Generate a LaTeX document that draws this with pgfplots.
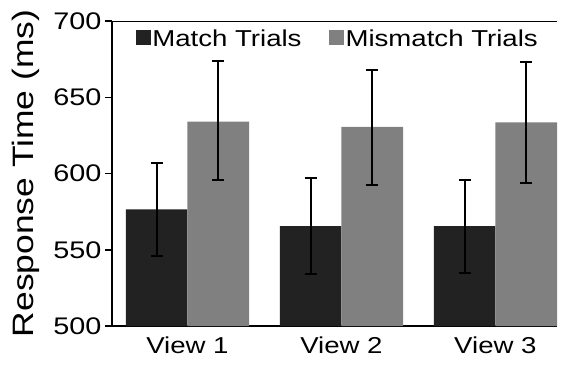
\documentclass[border=0pt]{standalone}
\usepackage{fontspec}
\setmainfont{Liberation Sans}[FakeStretch=1.2]
\usepackage{pgfplots}
\usepackage{pgfplotstable}
\pgfplotsset{compat=1.18}
\definecolor{matchc}{HTML}{222222}
\definecolor{mismc}{HTML}{808080}
\pgfplotstableread{
x y ep em
0 576.5 30.5 30.5
1 565.5 31.5 31.5
2 565.5 30.5 30.5
}\matchdata
\pgfplotstableread{
x y ep em
0 634 40 38
1 630.5 37.5 38
2 633.5 39.5 39.5
}\mismdata
\begin{document}
\begin{tikzpicture}
\useasboundingbox (-112pt,-39pt) rectangle (458pt,326pt);
\begin{axis}[
  at={(0,0)}, anchor=south west,
  scale only axis, width=445pt, height=305pt,
  ybar, bar width=0.4,
  ymin=500, ymax=700, ytick={500,550,...,700},
  xmin=-0.49, xmax=2.4,
  xtick={0,1,2}, xticklabels={View 1,View 2,View 3},
  axis x line*=bottom, axis y line*=left,
  axis line style={line width=1.5pt, -},
  tick align=outside, major tick length=7pt,
  x tick style={draw=none},
  y tick style={line width=1.5pt, black},
  /pgf/number format/assume math mode=true,
  yticklabel style={font=\fontsize{24}{24}\selectfont},
  xticklabel style={font=\fontsize{23}{23}\selectfont},
  ylabel={Response Time (ms)},
  every axis y label/.style={at={(axis description cs:-0.1775,0.5)}, rotate=90, anchor=base, font=\fontsize{29.5}{29.5}\selectfont},
  legend columns=2,
  legend style={draw=none, fill=none, at={(rel axis cs:0.053,0.94)}, anchor=west, inner sep=0pt,
    font=\fontsize{23}{23}\selectfont, nodes={inner sep=1.5pt},
    /tikz/every even column/.append style={column sep=26pt}},
  error bars/y dir=both, error bars/y explicit,
  error bars/error bar style={draw=black, line width=2pt, solid},
  error bars/error mark options={draw=black, line width=2pt, mark size=6pt, rotate=90},
]
\addplot[bar shift=-0.2, fill=matchc, draw=none,
  legend image code/.code={\fill[matchc] (0pt,-6pt) rectangle (15pt,9pt);}]
  table[x=x, y=y, y error plus=ep, y error minus=em] {\matchdata};
\addlegendentry{Match Trials}
\addplot[bar shift=0.2, fill=mismc, draw=none,
  legend image code/.code={\fill[mismc] (0pt,-6pt) rectangle (15pt,9pt);}]
  table[x=x, y=y, y error plus=ep, y error minus=em] {\mismdata};
\addlegendentry{Mismatch Trials}
\draw[line width=1.5pt] (rel axis cs:0,1) -- (rel axis cs:1,1);
\end{axis}
\end{tikzpicture}
\end{document}
